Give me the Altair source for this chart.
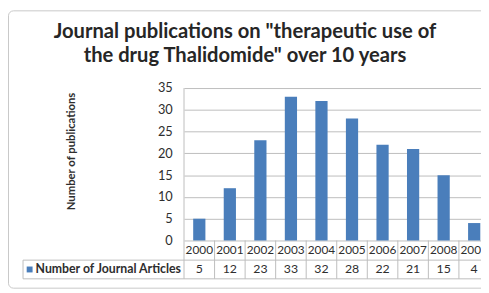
import altair as alt
import pandas as pd

# ---- data ----
years = ["2000", "2001", "2002", "2003", "2004", "2005", "2006", "2007", "2008", "2009"]
articles = [5, 12, 23, 33, 32, 28, 22, 21, 15, 4]
y_ticks = [0, 5, 10, 15, 20, 25, 30, 35]
title_lines = ['Journal publications on "therapeutic use of',
               'the drug Thalidomide" over 10 years']
y_title = "Number of publications"
series_name = "Number of Journal Articles"

# ---- style / layout ----
BLUE = "#4A7EBB"
GRID = "#BDBDBD"
TEXT = "#2E2E2E"
FONT = "Lato"

W, H = 302, 194          # plot area (includes the data table rows)
STEP = 31.06             # width of one category cell in px
Y0 = 155                 # pixel row of value 0
ROW_SEP = 175            # line between year row and value row
YMAX = 35
ymin = -(H - Y0) * YMAX / Y0
LEG_X = -163.7

df = pd.DataFrame({"year": years, "count": articles})
df["i"] = range(len(years))
df["x0"] = df["i"] + 0.3
df["x1"] = df["i"] + 0.7
df["xc"] = df["i"] + 0.5
df["count_label"] = df["count"].astype(str)

seps = pd.DataFrame({"b": list(range(1, len(years) + 1))})
one = pd.DataFrame({"k": [0]})

xs = alt.Scale(domain=[0, W / STEP], nice=False, zero=False)
ys = alt.Scale(domain=[ymin, YMAX], nice=False, zero=False)

frame = alt.Chart(one).mark_rect(
    fillOpacity=0, stroke="#C8C8C8", strokeWidth=1, cornerRadius=5
).encode(
    x=alt.value(-178.5), x2=alt.value(W + 20),
    y=alt.value(-78.5), y2=alt.value(203.5),
)

bars = alt.Chart(df).mark_bar(color=BLUE).encode(
    x=alt.X("x0:Q", scale=xs, axis=None),
    x2="x1:Q",
    y=alt.Y(
        "count:Q", scale=ys,
        axis=alt.Axis(
            values=y_ticks, title=y_title, grid=True, gridColor=GRID,
            domain=False, ticks=False, labelPadding=12,
            labelFont=FONT, labelFontSize=13, labelColor=TEXT,
            titleFont=FONT, titleFontSize=11.5, titleFontWeight="bold",
            titleColor=TEXT, titleX=-114, titleY=64, titleAngle=270,
            titleAlign="center", titleBaseline="middle",
        ),
    ),
    y2=alt.datum(0),
)

col_seps = alt.Chart(seps).mark_rule(color=GRID).encode(
    x=alt.X("b:Q", scale=xs, axis=None),
    y=alt.value(Y0), y2=alt.value(H),
)

row_sep = alt.Chart(one).mark_rule(color=GRID).encode(
    x=alt.value(LEG_X), x2=alt.value(W + 20), y=alt.value(ROW_SEP))
bottom_line = alt.Chart(one).mark_rule(color=GRID).encode(
    x=alt.value(LEG_X), x2=alt.value(W + 20), y=alt.value(H))
axis_line = alt.Chart(one).mark_rule(color=GRID).encode(
    x=alt.value(0), y=alt.value(0), y2=alt.value(H))
leg_left = alt.Chart(one).mark_rule(color=GRID).encode(
    x=alt.value(LEG_X), y=alt.value(ROW_SEP), y2=alt.value(H))

year_text = alt.Chart(df).mark_text(
    font=FONT, fontSize=12, color=TEXT, baseline="middle", align="center"
).encode(
    x=alt.X("xc:Q", scale=xs, axis=None),
    y=alt.value((Y0 + ROW_SEP) / 2),
    text="year:N",
)

count_text = alt.Chart(df).mark_text(
    font=FONT, fontSize=12.5, color=TEXT, baseline="middle", align="center"
).encode(
    x=alt.X("xc:Q", scale=xs, axis=None),
    y=alt.value((ROW_SEP + H) / 2),
    text="count_label:N",
)

leg_key = alt.Chart(one).mark_square(color=BLUE, size=36, opacity=1).encode(
    x=alt.value(-157), y=alt.value((ROW_SEP + H) / 2))
leg_text = alt.Chart(one).mark_text(
    font=FONT, fontSize=12.5, fontWeight="bold", color=TEXT,
    align="left", baseline="middle"
).encode(
    x=alt.value(-151), y=alt.value((ROW_SEP + H) / 2),
    text=alt.value(series_name),
)

title = alt.Chart(one).mark_text(
    font=FONT, fontSize=20.5, fontWeight="bold", color="#262626",
    align="center", baseline="alphabetic", lineHeight=25,
).encode(
    x=alt.value(62), y=alt.value(-51), text=alt.value(title_lines),
)

chart = alt.layer(
    frame, bars, col_seps, row_sep, bottom_line, axis_line, leg_left,
    year_text, count_text, leg_key, leg_text, title,
).properties(
    width=W, height=H,
    padding={"left": 179, "top": 79, "right": 0, "bottom": 11},
    autosize=alt.AutoSizeParams(type="none"),
    background="white",
).configure_view(stroke=None)

chart.save("out.html", embed_options={"renderer": "svg", "actions": False})
